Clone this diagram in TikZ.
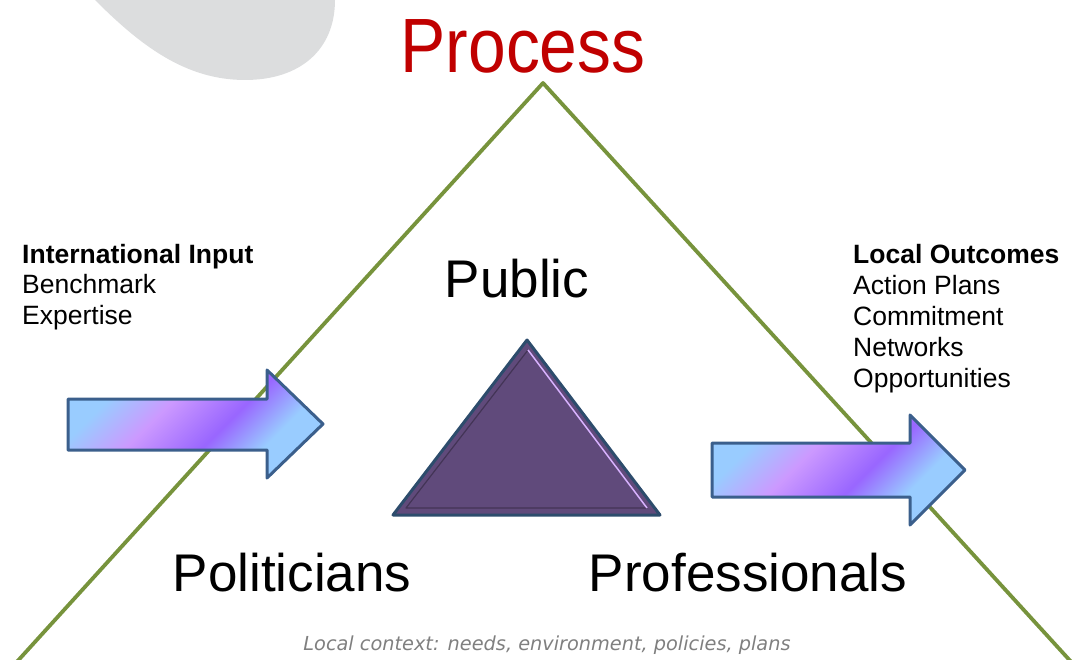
\documentclass[tikz,border=0pt]{standalone}
\usepackage{fontspec}
\setmainfont{Liberation Sans}
\newfontfamily\dejavu{DejaVu Sans}
\definecolor{lb}{HTML}{99CCFF}
\definecolor{lil}{HTML}{CC99FF}
\definecolor{vio}{HTML}{9966FF}
\definecolor{arrowline}{HTML}{3B5F8C}
\definecolor{greenline}{HTML}{77933C}
\definecolor{purp}{HTML}{604A7B}
\definecolor{purpline}{HTML}{2D4C6C}
\definecolor{procred}{HTML}{C00000}
\definecolor{greyshape}{HTML}{DCDDDE}
\definecolor{ctxgrey}{HTML}{7F7F7F}
\pgfdeclarehorizontalshading{arrowgrad}{100bp}{color(0bp)=(lb); color(28bp)=(lb); color(41bp)=(lil); color(56bp)=(vio); color(68bp)=(lb); color(100bp)=(lb)}
\tikzset{
  bigarrow/.style={draw=arrowline, line width=3pt, line join=round, shading=arrowgrad, shading angle=-45},
  sidelabel/.style={font=\fontsize{26.5}{30}\selectfont, inner sep=0pt, anchor=base west},
  biglabel/.style={font=\fontsize{53}{60}\selectfont, inner sep=0pt},
}
\begin{document}
\begin{tikzpicture}[x=1pt,y=-1pt]
\useasboundingbox (0,0) rectangle (1076,660);
\clip (0,0) rectangle (1076,660);
% grey decorative shape
\fill[greyshape] (95,0) .. controls (140,45) and (185,80) .. (245,80) .. controls (300,80) and (335,50) .. (335,0) -- cycle;
% green process triangle
\coordinate (apex) at (543,83);
\coordinate (gbl) at (14,665);
\coordinate (gbr) at (1074,665);
\draw[greenline, line width=3.8pt, line join=round] (gbl) -- (apex) -- (gbr);
% title
\node[anchor=base, inner sep=0pt, text=procred, font=\fontsize{77}{80}\selectfont] (process) at (523,73) {\scalebox{0.88}[1]{Process}};
% arrows
\path[bigarrow] (68,399) -- (267,399) -- (267,370) -- (323,424) -- (267,478) -- (267,450) -- (68,450) -- cycle;
\path[bigarrow] (712,443) -- (910,443) -- (910,415) -- (965,470) -- (910,525) -- (910,497) -- (712,497) -- cycle;
% purple triangle
\coordinate (ta) at (527,340);
\coordinate (tl) at (393,515);
\coordinate (tr) at (660,515);
\fill[purp] (ta) -- (tl) -- (tr) -- cycle;
\coordinate (ia) at (528,350);
\coordinate (il) at (406,508);
\coordinate (ir) at (647,508);
\draw[purp!70!black, line width=1.2pt, line join=round] (ir) -- (il) -- (ia);
\draw[lil!75!white, line width=1.5pt] (ia) -- (ir);
\draw[purpline, line width=3pt, line join=round] (ta) -- (tl) -- (tr) -- cycle;
% left labels
\node[sidelabel] (intl) at (22,264) {\textbf{International Input}};
\node[sidelabel] (bench) at (22,294) {Benchmark};
\node[sidelabel] (expert) at (22,324) {Expertise};
% right labels
\node[sidelabel] (local) at (853,264) {\textbf{Local Outcomes}};
\node[sidelabel] (action) at (853,294.75) {Action Plans};
\node[sidelabel] (commit) at (853,325.5) {Commitment};
\node[sidelabel] (netw) at (853,356.25) {Networks};
\node[sidelabel] (opport) at (853,387) {Opportunities};
% big labels
\node[biglabel, anchor=base] (public) at (517,298) {Public};
\node[biglabel, anchor=base] (politicians) at (292,591) {Politicians};
\node[biglabel, anchor=base] (professionals) at (748,591) {Professionals};
\node[anchor=base, inner sep=0pt, text=ctxgrey, font=\dejavu\itshape\fontsize{19.3}{21}\selectfont] (context) at (547,650) {Local context: needs, environment, policies, plans};
\end{tikzpicture}
\end{document}
